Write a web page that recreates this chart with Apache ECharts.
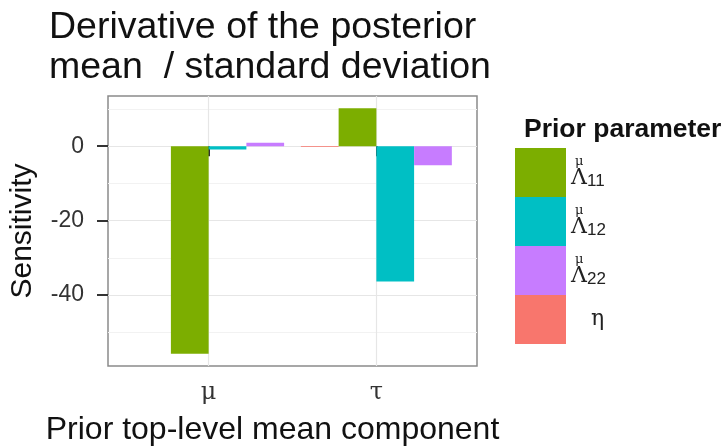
<!DOCTYPE html>
<html>
<head>
<meta charset="utf-8">
<script src="https://cdn.jsdelivr.net/npm/echarts@6/dist/echarts.min.js"></script>
<style>html,body{margin:0;padding:0;background:#fff}#c{width:724px;height:448px}</style>
</head>
<body>
<div id="c"></div>
<script>
// categories (x positions 1, 2)
const categories = ['μ', 'τ'];
// series in bar order within each group
const seriesKeys = ['eta', 'L11', 'L12', 'L22'];
const valuesEta = [0, -0.2];
const valuesL11 = [-55.8, 10.2];
const valuesL12 = [-0.9, -36.4];
const valuesL22 = [0.9, -5.1];
// legend order
const legendOrder = ['L11', 'L12', 'L22', 'eta'];
const yTickLabels = [-40, -20, 0];
const yMinorLines = [-50, -30, -10, 10];

const colors = { L11: '#7CAE00', L12: '#00BFC4', L22: '#C77CFF', eta: '#F8766D' };
const valuesByKey = { eta: valuesEta, L11: valuesL11, L12: valuesL12, L22: valuesL22 };
const legendText = {
  L11: '{sp| }{L|Λ}{sup|μ}{sub|11}',
  L12: '{sp| }{L|Λ}{sup|μ}{sub|12}',
  L22: '{sp| }{L|Λ}{sup|μ}{sub|22}',
  eta: '{e|η}'
};

const chart = echarts.init(document.getElementById('c'), null, { renderer: 'canvas' });
const sans = 'Liberation Sans, Arial, Helvetica, sans-serif';
const serif = 'DejaVu Serif, Liberation Serif, serif';

chart.setOption({
  animation: false,
  backgroundColor: '#fff',
  title: [
    {
      text: 'Derivative of the posterior\nmean  / standard deviation',
      left: 49, top: 8, padding: 0,
      textStyle: { fontFamily: sans, fontSize: 37.5, fontWeight: 'normal', color: '#111', lineHeight: 40 }
    },
    {
      text: 'Prior parameter',
      left: 524, top: 116, padding: 0,
      textStyle: { fontFamily: sans, fontSize: 26.5, fontWeight: 'bold', color: '#111' }
    }
  ],
  legend: {
    orient: 'vertical',
    left: 515, top: 148,
    padding: 0,
    itemWidth: 51, itemHeight: 49, itemGap: 0,
    icon: 'rect',
    selectedMode: false,
    data: legendOrder,
    formatter: function (name) { return legendText[name]; },
    textStyle: {
      color: '#222',
      rich: {
        sp: { fontFamily: sans, fontSize: 10, width: 0, lineHeight: 34, verticalAlign: 'middle' },
        L: { fontFamily: serif, fontSize: 22, width: 4, align: 'left', lineHeight: 27, verticalAlign: 'bottom', color: '#222' },
        sup: { fontFamily: serif, fontSize: 13, width: 0, align: 'left', lineHeight: 14, verticalAlign: 'top', color: '#222' },
        sub: { fontFamily: sans, fontSize: 17, lineHeight: 17, verticalAlign: 'bottom', padding: [0, 0, 0, 12], color: '#222' },
        e: { fontFamily: serif, fontSize: 22, lineHeight: 32, padding: [0, 0, 0, 20], color: '#222' }
      }
    }
  },
  grid: {
    left: 108, top: 96, width: 369, height: 270,
    outerBoundsMode: 'none',
    show: true, borderColor: '#8a8a8a', borderWidth: 1.5, backgroundColor: '#fff',
    containLabel: false
  },
  xAxis: {
    type: 'value', min: 0.4, max: 2.6,
    axisLine: { show: false },
    axisTick: { show: true, customValues: [1, 2], length: 10, lineStyle: { color: '#333', width: 2 } },
    axisLabel: {
      customValues: [1, 2],
      formatter: function (v) { return categories[Math.round(v) - 1]; },
      fontFamily: serif, fontSize: 24, color: '#333', margin: 15
    },
    splitLine: { show: true, lineStyle: { color: '#E6E6E6', width: 1.2 } },
    name: 'Prior top-level mean component',
    nameLocation: 'middle', nameGap: 48,
    nameTextStyle: { fontFamily: sans, fontSize: 32, color: '#111', padding: [0, 40, 0, 0] }
  },
  yAxis: [
    {
      type: 'value', min: -59.1, max: 13.5,
      axisLine: { show: false },
      axisTick: { show: true, customValues: yTickLabels, length: 11, lineStyle: { color: '#333', width: 2 } },
      axisLabel: { customValues: yTickLabels, fontFamily: sans, fontSize: 23, color: '#333', margin: 24 },
      splitLine: { show: true, lineStyle: { color: '#E6E6E6', width: 1.2 } },
      name: 'Sensitivity',
      nameLocation: 'middle', nameGap: 70,
      nameTextStyle: { fontFamily: sans, fontSize: 30, color: '#111' }
    },
    {
      type: 'value', min: -59.1, max: 13.5, position: 'left',
      axisLine: { show: false },
      axisTick: { show: false, customValues: yMinorLines },
      axisLabel: { show: false, customValues: yMinorLines },
      splitLine: { show: true, lineStyle: { color: '#F2F2F2', width: 1 } }
    }
  ],
  series: seriesKeys.map(function (k) {
    return {
      name: k,
      type: 'bar',
      barGap: '0%',
      barCategoryGap: '10%',
      itemStyle: { color: colors[k] },
      data: valuesByKey[k].map(function (v, i) { return [i + 1, v]; })
    };
  })
});
</script>
</body>
</html>
